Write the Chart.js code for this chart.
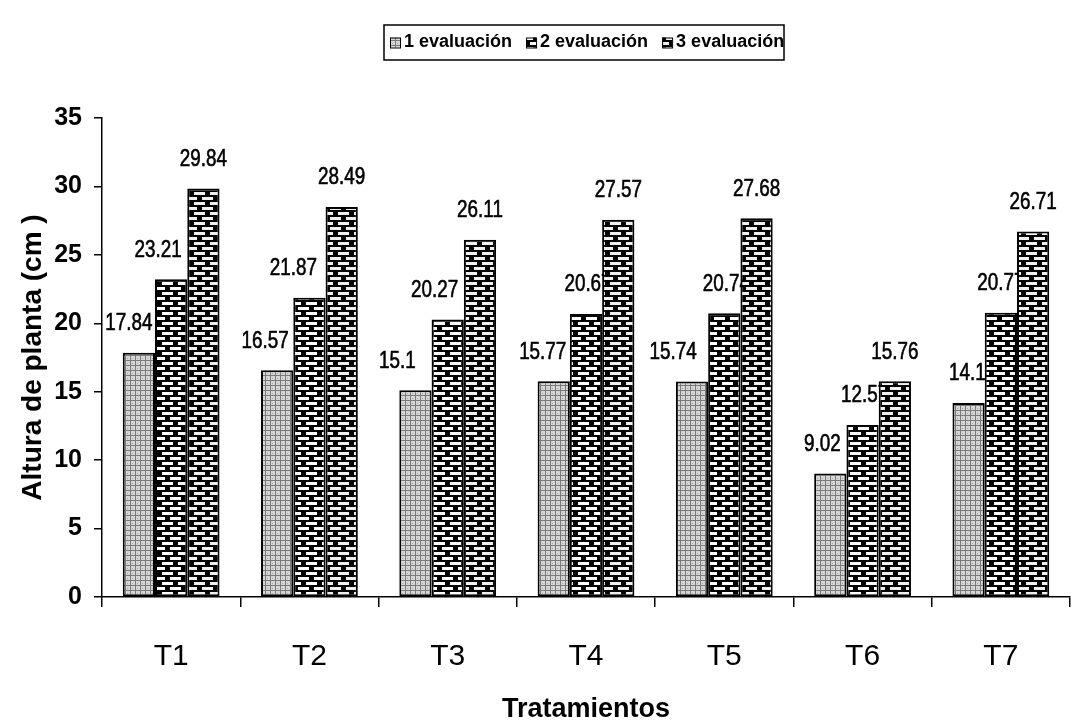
<!DOCTYPE html>
<html>
<head>
<meta charset="utf-8">
<script src="https://cdn.jsdelivr.net/npm/chart.js@4/dist/chart.umd.min.js"></script>
<style>
  html, body { margin: 0; padding: 0; background: #fff; }
  #wrap { width: 1081px; height: 726px; }
</style>
</head>
<body>
<div id="wrap"><canvas id="c" width="1081" height="726"></canvas></div>
<script>
// Plant height (cm) per treatment at three evaluations
const categories = ['T1', 'T2', 'T3', 'T4', 'T5', 'T6', 'T7'];
const seriesNames = ['1 evaluación', '2 evaluación', '3 evaluación'];
const eval1 = [17.84, 16.57, 15.1, 15.77, 15.74, 9.02, 14.18];
const eval2 = [23.21, 21.87, 20.27, 20.67, 20.74, 12.57, 20.77];
const eval3 = [29.84, 28.49, 26.11, 27.57, 27.68, 15.76, 26.71];
const yTicks = [0, 5, 10, 15, 20, 25, 30, 35];

// horizontal nudge (px) of each value label relative to its bar centre
const labelNudge = [
  [-10, -12, -18, -11, -19, -8, 4],
  [-13, -16, -13, 2, 2, 2, 0],
  [0, 0, 0, 0, 0, 0, 0]
];

const SANS = '"Liberation Sans", Arial, sans-serif';

// --- fill patterns -------------------------------------------------------
function tile(w, h, paint) {
  const c = document.createElement('canvas');
  c.width = w; c.height = h;
  paint(c.getContext('2d'), w, h);
  return c;
}
const ctxMain = document.getElementById('c').getContext('2d');

// light grey fine grid
const pat1 = ctxMain.createPattern(tile(5, 5, (g, w, h) => {
  g.fillStyle = '#d6d6d6'; g.fillRect(0, 0, w, h);
  g.fillStyle = '#7a7a7a';
  g.fillRect(0, 0, w, 1);
  g.fillRect(0, 0, 1, h);
  g.fillStyle = '#a8a8a8';
  g.fillRect(2, 3, 1, 1);
}), 'repeat');

// dark brick
function brick(g, w, h, white) {
  g.fillStyle = '#000'; g.fillRect(0, 0, w, h);
  g.fillStyle = white;
  g.fillRect(2, 2, 11, 3);
  g.fillRect(10, 7, 6, 3);
  g.fillRect(0, 7, 5, 3);
}
const pat2 = ctxMain.createPattern(tile(16, 10, (g, w, h) => brick(g, w, h, '#fff')), 'repeat');
const pat3 = ctxMain.createPattern(tile(16, 10, (g, w, h) => brick(g, w, h, '#f0f0f0')), 'repeat');
const patterns = [pat1, pat2, pat3];

// condensed text: draw horizontally squeezed
function narrowText(ctx, text, x, y, squeeze) {
  ctx.save();
  ctx.translate(x, y);
  ctx.scale(squeeze, 1);
  ctx.fillText(text, 0, 0);
  ctx.lineWidth = 0.6;
  ctx.strokeText(text, 0, 0);
  ctx.restore();
}

// --- value labels: series 1 and 2 go under the bars, series 3 on top ----
function drawValueLabels(chart, which) {
  const ctx = chart.ctx;
  ctx.save();
  ctx.font = '23px ' + SANS;
  ctx.fillStyle = '#000';
  ctx.strokeStyle = '#000';
  ctx.textAlign = 'center';
  ctx.textBaseline = 'middle';
  which.forEach(ds => {
    const meta = chart.getDatasetMeta(ds);
    const values = chart.data.datasets[ds].data;
    meta.data.forEach((bar, i) => {
      narrowText(ctx, String(values[i]), bar.x + labelNudge[ds][i], bar.y - 29, 0.82);
    });
  });
  ctx.restore();
}
const valueLabels = {
  id: 'valueLabels',
  beforeDatasetsDraw(chart) { drawValueLabels(chart, [0, 1]); },
  afterDatasetsDraw(chart) { drawValueLabels(chart, [2]); }
};

// --- boxed legend across the top ----------------------------------------
const boxedLegend = {
  id: 'boxedLegend',
  afterDraw(chart) {
    const ctx = chart.ctx;
    const box = { x: 384, y: 25, w: 400, h: 35 };
    ctx.save();
    ctx.strokeStyle = '#000';
    ctx.lineWidth = 1.5;
    ctx.strokeRect(box.x, box.y, box.w, box.h);
    ctx.font = 'bold 18px ' + SANS;
    ctx.textBaseline = 'middle';
    const cy = box.y + box.h / 2;
    let x = box.x + 6;
    chart.data.datasets.forEach(ds => {
      ctx.fillStyle = ds.backgroundColor;
      ctx.fillRect(x, cy - 5, 10, 10);
      ctx.lineWidth = 1;
      ctx.strokeRect(x + 0.5, cy - 4.5, 10, 10);
      ctx.fillStyle = '#000';
      ctx.fillText(ds.label, x + 14, cy);
      x += 14 + ctx.measureText(ds.label).width + 14;
    });
    ctx.restore();
  }
};

const seriesValues = [eval1, eval2, eval3];

new Chart(document.getElementById('c'), {
  type: 'bar',
  data: {
    labels: categories,
    datasets: seriesNames.map((name, k) => ({
      label: name,
      data: seriesValues[k],
      backgroundColor: patterns[k],
      borderColor: '#000',
      borderWidth: 2,
      borderSkipped: false,
      categoryPercentage: 0.7,
      barPercentage: 1.0
    }))
  },
  options: {
    responsive: false,
    animation: false,
    devicePixelRatio: 1,
    layout: { padding: { top: 118, right: 11, left: 0, bottom: 0 } },
    plugins: { legend: { display: false }, tooltip: { enabled: false } },
    scales: {
      x: {
        offset: true,
        grid: { display: true, offset: true, drawOnChartArea: false, drawTicks: true, tickLength: 10, color: '#000', lineWidth: 1.5 },
        border: { display: true, color: '#000', width: 1.5 },
        ticks: { color: '#000', padding: 32, font: { family: SANS, size: 30 } },
        title: { display: true, text: 'Tratamientos', color: '#000', padding: { top: 0, bottom: 0 },
                 font: { family: SANS, size: 27, weight: 'bold' } },
        afterFit(scale) { scale.height = 129; }
      },
      y: {
        min: 0, max: 35,
        afterBuildTicks(scale) { scale.ticks = yTicks.map(v => ({ value: v })); },
        grid: { drawOnChartArea: false, drawTicks: true, tickLength: 8, color: '#000', lineWidth: 1.5 },
        border: { display: true, color: '#000', width: 1.5 },
        ticks: { color: '#000', padding: 12, font: { family: SANS, size: 25, weight: 'bold' } },
        title: { display: true, text: 'Altura de planta (cm )', color: '#000', padding: { top: 16, bottom: 0 },
                 font: { family: SANS, size: 28, weight: 'bold' } },
        afterFit(scale) { scale.width = 102; }
      }
    }
  },
  plugins: [valueLabels, boxedLegend]
});
</script>
</body>
</html>
